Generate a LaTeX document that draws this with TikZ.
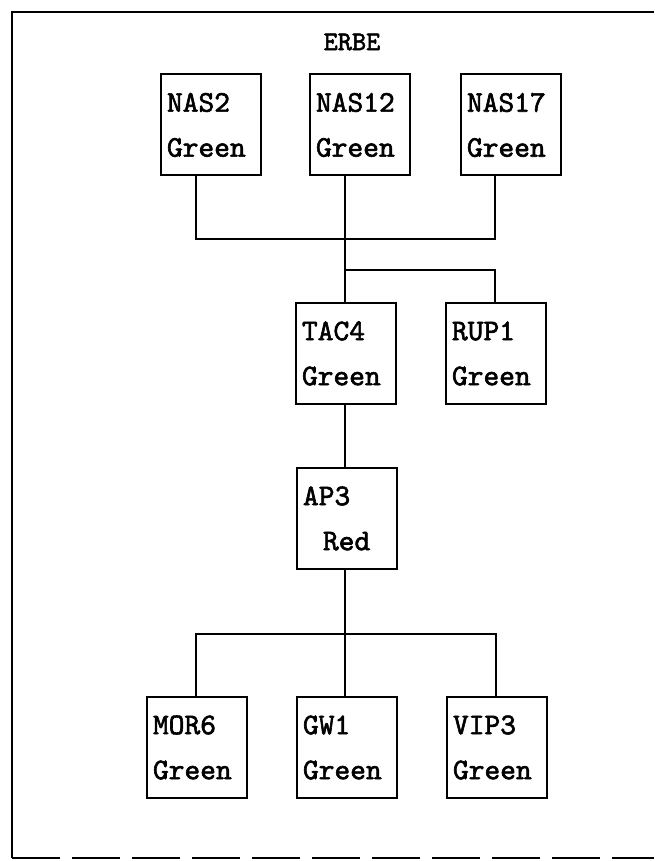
\documentclass[tikz,border=0pt]{standalone}
\usepackage{fontspec}
\newfontfamily\typew[FakeBold=2]{lmmono10-regular.otf}
\begin{document}
\begin{tikzpicture}[x=1pt,y=-1pt,
  line width=2pt,
  unit/.style={draw, rectangle, minimum width=100pt, minimum height=101pt,
    text width=88pt, inner sep=6pt, align=left,
    font=\typew\fontsize{30}{45}\selectfont},
  lbl/.style={font=\typew\fontsize{27}{30}\selectfont}]
\useasboundingbox (0,0) rectangle (654,861);
% frame
\draw (654,12) -- (12,12) -- (12,858);
\draw[dash pattern=on 48pt off 12pt] (12,858) -- (654,858);
\node[lbl] (erbe) at (352,42) {ERBE};
% nodes
\node[unit] (nas2)  at (211,125) {NAS2\\Green};
\node[unit] (nas12) at (360,125) {NAS12\\Green};
\node[unit] (nas17) at (511,125) {NAS17\\Green};
\node[unit] (tac4)  at (346,353.5) {TAC4\\Green};
\node[unit] (rup1)  at (496,353.5) {RUP1\\Green};
\node[unit] (ap3)   at (347,518.5) {AP3\\\hspace*{20pt}Red};
\node[unit] (mor6)  at (197,747.5) {MOR6\\Green};
\node[unit] (gw1)   at (347,747.5) {GW1\\Green};
\node[unit] (vip3)  at (497,747.5) {VIP3\\Green};
% bus coordinates
\coordinate (b1l) at (196,239);
\coordinate (b1r) at (495,239);
\coordinate (b2l) at (345,270);
\coordinate (b2r) at (495,270);
\coordinate (b3l) at (196,634);
\coordinate (b3r) at (496,634);
% connectors
\draw (nas2.south -| b1l) |- (b1r) -- (nas17.south -| b1r);
\draw (nas12.south -| b2l) -- (b2l);
\draw (b2l) -- (b2r) -- (rup1.north -| b2r);
\draw (b2l) -- (tac4.north -| b2l);
\draw (tac4.south -| b2l) -- (ap3.north -| b2l);
\draw (ap3.south -| b2l) -- (gw1.north -| b2l);
\draw (mor6.north -| b3l) -- (b3l) -- (b3r) -- (vip3.north -| b3r);
\end{tikzpicture}
\end{document}
